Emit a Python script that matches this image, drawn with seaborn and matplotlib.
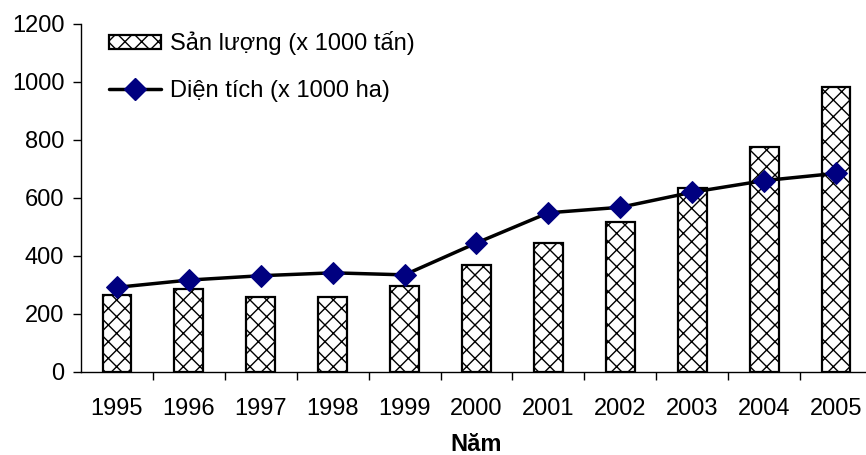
import numpy as np
import pandas as pd
import matplotlib
matplotlib.use("Agg")
import matplotlib.pyplot as plt
import seaborn as sns
from matplotlib.patches import Patch
from matplotlib.lines import Line2D

years = ["1995", "1996", "1997", "1998", "1999", "2000", "2001", "2002", "2003", "2004", "2005"]
san_luong = [265, 285, 260, 260, 297, 369, 446, 516, 633, 775, 984]
dien_tich = [292, 317, 332, 342, 335, 445, 549, 568, 620, 660, 685]
yticks = [0, 200, 400, 600, 800, 1000, 1200]

sns.set_theme(style="white")
plt.rcParams["font.family"] = ["Liberation Sans", "DejaVu Sans"]
plt.rcParams["hatch.color"] = "#444444"
plt.rcParams["hatch.linewidth"] = 1.0
plt.rcParams["text.color"] = "black"
plt.rcParams["xtick.color"] = "black"
plt.rcParams["ytick.color"] = "black"
plt.rcParams["axes.labelcolor"] = "black"

FS = 17

df = pd.DataFrame({"year": years, "sl": san_luong, "dt": dien_tich})

fig = plt.figure(figsize=(8.66, 4.55), dpi=100)
ax = fig.add_axes([81/866, 83/455, 791/866, 348/455])

sns.barplot(data=df, x="year", y="sl", ax=ax, color="white", width=0.4,
            edgecolor="black", linewidth=1.6, saturation=1)
for p in ax.patches:
    p.set_hatch("xx")

pos = np.arange(len(years))
sns.lineplot(x=pos, y=df["dt"], ax=ax, color="black", linewidth=2.5,
             marker="D", markersize=11, markerfacecolor="#000080",
             markeredgecolor="#000080")

ax.set_xlim(-0.5, len(years) - 0.5)
ax.set_ylim(0, 1200)
ax.set_yticks(yticks)
ax.set_yticklabels([str(v) for v in yticks], fontsize=FS)
ax.set_xticks(pos)
ax.set_xticklabels(years, fontsize=FS)
ax.set_xticks(np.arange(len(years)) + 0.5, minor=True)
ax.tick_params(axis="x", which="major", length=0, pad=19)
ax.tick_params(axis="x", which="minor", length=6, width=1, color="black", direction="out", bottom=True)
ax.tick_params(axis="y", length=6, width=1, color="black", direction="out", left=True, pad=6)
ax.set_xlabel("Năm", fontsize=FS, fontweight="bold", labelpad=9)
ax.set_ylabel("")

for s in ["top", "right"]:
    ax.spines[s].set_visible(False)
for s in ["left", "bottom"]:
    ax.spines[s].set_color("black")
    ax.spines[s].set_linewidth(1)

handles = [
    Patch(facecolor="white", edgecolor="black", hatch="xx", linewidth=1.6),
    Line2D([0], [0], color="black", linewidth=2.5, marker="D", markersize=11,
           markerfacecolor="#000080", markeredgecolor="#000080"),
]
labels = ["Sản lượng (x 1000 tấn)", "Diện tích (x 1000 ha)"]
ax.legend(handles, labels, loc="upper left", bbox_to_anchor=(0.008, 1.04),
          frameon=False, fontsize=FS, handlelength=2.2, handleheight=0.55,
          handletextpad=0.4, labelspacing=1.05)

fig.savefig("out.png", dpi=100)
